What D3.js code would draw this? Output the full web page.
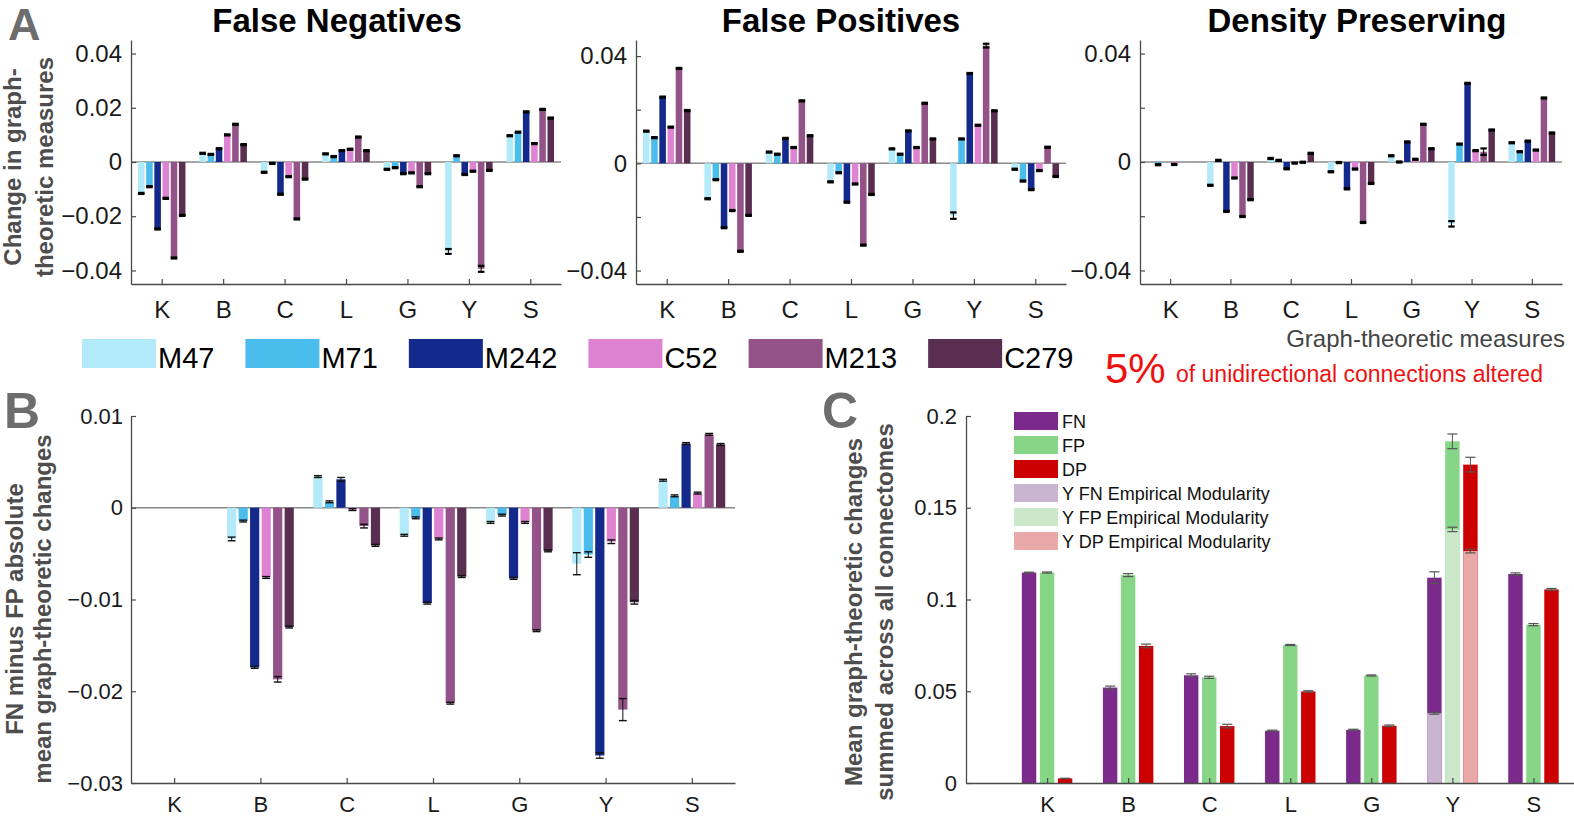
<!DOCTYPE html>
<html><head><meta charset="utf-8">
<script src="https://cdn.jsdelivr.net/npm/d3@7"></script>
<style>
body{margin:0;background:#fff}
svg{display:block;font-family:"Liberation Sans",Arial,Helvetica,sans-serif}
</style>
</head><body>
<svg id="chart" width="1574" height="818"></svg>
<script>
// ---------------- DATA ----------------
const categories = ["K","B","C","L","G","Y","S"];
const strains = ["M47","M71","M242","C52","M213","C279"];
const strainColors = ["#b3eaf9","#4abdec","#13298b","#dd83d1","#935388","#5a2e51"];

// Panel A: rows = strains, columns = categories
const fnValues = [
  [-0.0116, 0.0032, -0.0038, 0.0030, -0.0027, -0.0330, 0.0097],
  [-0.0091, 0.0028, -0.0005, 0.0020, -0.0021,  0.0023, 0.0110],
  [-0.0247, 0.0049, -0.0119, 0.0042, -0.0043, -0.0046, 0.0185],
  [-0.0134, 0.0100, -0.0054, 0.0047, -0.0040, -0.0034, 0.0068],
  [-0.0354, 0.0139, -0.0210, 0.0092, -0.0091, -0.0394, 0.0194],
  [-0.0197, 0.0064, -0.0063, 0.0042, -0.0043, -0.0031, 0.0162]
];
const fnErrors = [
  [0.0002, 0.0002, 0.0002, 0.0002, 0.0002, 0.0009, 0.0002],
  [0.0002, 0.0002, 0.0002, 0.0002, 0.0002, 0.0002, 0.0002],
  [0.0002, 0.0002, 0.0002, 0.0002, 0.0002, 0.0002, 0.0002],
  [0.0002, 0.0002, 0.0002, 0.0002, 0.0002, 0.0002, 0.0002],
  [0.0002, 0.0002, 0.0002, 0.0002, 0.0002, 0.0011, 0.0002],
  [0.0002, 0.0002, 0.0002, 0.0002, 0.0002, 0.0002, 0.0002]
];
const fpValues = [
  [0.0120, -0.0132, 0.0042, -0.0069, 0.0054, -0.0195, -0.0022],
  [0.0096, -0.0061, 0.0034, -0.0035, 0.0034,  0.0091, -0.0066],
  [0.0247, -0.0240, 0.0093, -0.0145, 0.0121,  0.0335, -0.0098],
  [0.0135, -0.0176, 0.0059, -0.0077, 0.0059,  0.0142, -0.0027],
  [0.0354, -0.0328, 0.0233, -0.0305, 0.0224,  0.0439,  0.0060],
  [0.0197, -0.0194, 0.0103, -0.0116, 0.0091,  0.0196, -0.0049]
];
const fpErrors = [
  [0.0002, 0.0002, 0.0002, 0.0002, 0.0002, 0.0012, 0.0002],
  [0.0002, 0.0002, 0.0002, 0.0002, 0.0002, 0.0002, 0.0002],
  [0.0002, 0.0002, 0.0002, 0.0002, 0.0002, 0.0002, 0.0002],
  [0.0002, 0.0002, 0.0002, 0.0002, 0.0002, 0.0002, 0.0002],
  [0.0002, 0.0002, 0.0002, 0.0002, 0.0002, 0.0007, 0.0002],
  [0.0002, 0.0002, 0.0002, 0.0002, 0.0002, 0.0002, 0.0002]
];
const dpValues = [
  [ 0.0000, -0.0086,  0.0013, -0.0036, 0.0023, -0.0228, 0.0071],
  [-0.0010,  0.0006,  0.0006, -0.0002, 0.0000,  0.0066, 0.0038],
  [ 0.0000, -0.0182, -0.0025, -0.0099, 0.0074,  0.0290, 0.0077],
  [-0.0009, -0.0059, -0.0004, -0.0026, 0.0010,  0.0042, 0.0044],
  [ 0.0000, -0.0201, -0.0001, -0.0223, 0.0139,  0.0038, 0.0236],
  [ 0.0000, -0.0139,  0.0032, -0.0079, 0.0049,  0.0118, 0.0107]
];
const dpErrors = [
  [0.0000, 0.0002, 0.0002, 0.0002, 0.0002, 0.0010, 0.0002],
  [0.0002, 0.0002, 0.0002, 0.0002, 0.0002, 0.0002, 0.0002],
  [0.0000, 0.0002, 0.0002, 0.0002, 0.0002, 0.0002, 0.0002],
  [0.0002, 0.0002, 0.0002, 0.0002, 0.0002, 0.0002, 0.0002],
  [0.0000, 0.0002, 0.0002, 0.0002, 0.0002, 0.0012, 0.0002],
  [0.0000, 0.0002, 0.0002, 0.0002, 0.0002, 0.0002, 0.0002]
];

// Panel B
const diffValues = [
  [0, -0.0034,  0.0034, -0.0030, -0.0016, -0.0061, 0.0030],
  [0, -0.00145, 0.00065,-0.0011, -0.0008, -0.0051, 0.0013],
  [0, -0.0174,  0.0031, -0.0104, -0.0077, -0.0270, 0.0070],
  [0, -0.0076, -0.0002, -0.0034, -0.0016, -0.0037, 0.0016],
  [0, -0.0187, -0.0020, -0.0213, -0.0134, -0.0220, 0.0080],
  [0, -0.0130, -0.0041, -0.0075, -0.0047, -0.0103, 0.0069]
];
const diffErrors = [
  [0, 0.0002, 0.0001, 0.0001, 0.0001, 0.0012, 0.0001],
  [0, 0.0001, 0.0001, 0.0001, 0.0001, 0.0003, 0.0001],
  [0, 0.0001, 0.0002, 0.0001, 0.0001, 0.0003, 0.0001],
  [0, 0.0001, 0.0001, 0.0001, 0.0001, 0.0002, 0.0001],
  [0, 0.0003, 0.0002, 0.0001, 0.0001, 0.0012, 0.0001],
  [0, 0.0001, 0.0001, 0.0001, 0.0001, 0.0002, 0.0001]
];

// Panel C
const compTypes = ["FN","FP","DP"];
const compColors = ["#7b2a8b","#87d587","#cc0000"];
const compValues = [
  [0.1147, 0.0520, 0.0587, 0.0285, 0.0290, 0.1119, 0.1139],
  [0.1147, 0.1133, 0.0576, 0.0752, 0.0586, 0.1862, 0.0863],
  [0.0025, 0.0747, 0.0310, 0.0499, 0.0312, 0.1735, 0.1055]
];
const compErrors = [
  [0.0002, 0.0008, 0.0008, 0.0003, 0.0003, 0.0032, 0.0006],
  [0.0003, 0.0008, 0.0006, 0.0003, 0.0003, 0.0040, 0.0006],
  [0.0001, 0.0010, 0.0010, 0.0004, 0.0004, 0.0040, 0.0005]
];
const empiricalLabels = ["Y FN Empirical Modularity","Y FP Empirical Modularity","Y DP Empirical Modularity"];
const empiricalColors = ["#c9b5d0","#cbe8cb","#eaa9a9"];
const empiricalValues = [0.0380, 0.1382, 0.1264];
const empiricalErrors = [0.0005, 0.0012, 0.0010];

const aTicks = [-0.04, -0.02, 0, 0.02, 0.04];
const bTicks = [-0.03, -0.02, -0.01, 0, 0.01];
const cTicks = [0, 0.05, 0.1, 0.15, 0.2];

// ---------------- DRAWING ----------------
const svg = d3.select("#chart");
const fmt = d => d === 0 ? "0" : d3.format(".2~f")(d);
const catPos = categories.map((c, i) => i + 1);

function panel(o) {
  const g = svg.append("g");
  const x = d3.scaleLinear().domain(o.xDomain).range([o.x0, o.x1]);
  const y = d3.scaleLinear().domain(o.yDomain).range([o.y1, o.y0]);
  const n = o.values.length;
  const gw = Math.min(0.8, n / (n + 1.5));
  const slot = gw / n;
  const bw = slot * 0.8;
  const bwPx = x(bw) - x(0);
  const cx = (i, j) => catPos[i] - gw / 2 + slot * (j + 0.5);

  if (o.zeroLine) {
    g.append("line").attr("x1", o.x0).attr("x2", o.x1)
      .attr("y1", y(0)).attr("y2", y(0))
      .attr("stroke", "#8a8a8a").attr("stroke-width", 1.5);
  }
  o.values.forEach((row, j) => {
    g.append("g").selectAll("rect").data(row).join("rect")
      .attr("x", (v, i) => x(cx(i, j)) - bwPx / 2)
      .attr("width", bwPx)
      .attr("y", v => Math.min(y(v), y(0)))
      .attr("height", v => Math.abs(y(v) - y(0)))
      .attr("fill", o.colors[j]);
  });
  if (o.overlay) o.overlay(g, x, y, cx, bwPx);
  const capW = bwPx * o.capFrac;
  o.values.forEach((row, j) => {
    row.forEach((v, i) => {
      const e = o.errors[j][i];
      if (v === 0 && e === 0) return;
      const xc = x(cx(i, j));
      g.append("line").attr("x1", xc).attr("x2", xc)
        .attr("y1", y(v - e)).attr("y2", y(v + e))
        .attr("stroke", o.errColor).attr("stroke-width", 1);
      [v - e, v + e].forEach(t => g.append("line")
        .attr("x1", xc - capW / 2).attr("x2", xc + capW / 2)
        .attr("y1", y(t)).attr("y2", y(t))
        .attr("stroke", o.errColor).attr("stroke-width", o.capStroke));
    });
  });
  if (o.extraErrors) o.extraErrors(g, x, y, cx, capW);

  const ya = d3.axisLeft(y).tickValues(o.yTicks).tickSize(-5).tickSizeOuter(0)
    .tickPadding(o.yPad).tickFormat(d => o.yLabels.includes(d) ? fmt(d) : "");
  const yg = g.append("g").attr("transform", `translate(${o.x0},0)`).call(ya);
  const xa = d3.axisBottom(x).tickValues(catPos).tickSize(-5).tickSizeOuter(0)
    .tickPadding(o.xPad).tickFormat((d, i) => categories[i]);
  const xg = g.append("g").attr("transform", `translate(0,${o.y1})`).call(xa);
  [yg, xg].forEach(a => {
    a.attr("font-family", null).attr("font-size", null);
    a.select(".domain").attr("stroke", "#4a4a4a").attr("stroke-width", 1.3);
    a.selectAll(".tick line").attr("stroke", "#4a4a4a").attr("stroke-width", 1.2);
    a.selectAll(".tick text").attr("fill", "#1a1a1a").attr("font-size", o.tickFs);
  });
  return {x, y};
}

// Panel A
const aCommon = {xDomain:[0.5,7.5], y0:40, y1:284, yTicks:aTicks, colors:strainColors,
  tickFs:24, yPad:9, xPad:17, zeroLine:true, capFrac:1.0, capStroke:2.2, errColor:"#000"};
panel(Object.assign({}, aCommon, {x0:131, x1:561, yDomain:[-0.045,0.045],
  yLabels:aTicks, values:fnValues, errors:fnErrors}));
panel(Object.assign({}, aCommon, {x0:636, x1:1066, yDomain:[-0.045,0.046],
  yLabels:[-0.04,0,0.04], values:fpValues, errors:fpErrors}));
panel(Object.assign({}, aCommon, {x0:1140, x1:1562, yDomain:[-0.045,0.045],
  yLabels:[-0.04,0,0.04], values:dpValues, errors:dpErrors}));

// Panel B
panel({xDomain:[0.5,7.5], x0:131, x1:735, y0:416, y1:783, yDomain:[-0.03,0.01],
  yTicks:bTicks, yLabels:bTicks, values:diffValues, errors:diffErrors, colors:strainColors,
  tickFs:22, yPad:8, xPad:13, zeroLine:true, capFrac:0.85, capStroke:1.4, errColor:"#111"});

// Panel C
panel({xDomain:[0,7.5], x0:966, x1:1574, y0:416, y1:783, yDomain:[0,0.2],
  yTicks:cTicks, yLabels:cTicks, values:compValues, errors:compErrors, colors:compColors,
  tickFs:22, yPad:9, xPad:13, zeroLine:false, capFrac:0.7, capStroke:1.2, errColor:"#555",
  overlay:(g, x, y, cx, bwPx) => {
    const yi = categories.indexOf("Y");
    empiricalValues.forEach((v, j) => {
      g.append("rect").attr("x", x(cx(yi, j)) - bwPx / 2).attr("width", bwPx)
        .attr("y", y(v)).attr("height", y(0) - y(v)).attr("fill", empiricalColors[j]);
    });
  },
  extraErrors:(g, x, y, cx, capW) => {
    const yi = categories.indexOf("Y");
    empiricalValues.forEach((v, j) => {
      const e = empiricalErrors[j], xc = x(cx(yi, j));
      g.append("line").attr("x1", xc).attr("x2", xc).attr("y1", y(v - e)).attr("y2", y(v + e))
        .attr("stroke", "#555");
      [v - e, v + e].forEach(t => g.append("line").attr("x1", xc - capW / 2).attr("x2", xc + capW / 2)
        .attr("y1", y(t)).attr("y2", y(t)).attr("stroke", "#555").attr("stroke-width", 1.2));
    });
  }
});

// Titles
[["False Negatives", 337], ["False Positives", 841], ["Density Preserving", 1357]].forEach(([t, cx]) =>
  svg.append("text").attr("x", cx).attr("y", 32).attr("text-anchor", "middle")
    .attr("font-size", 33).attr("font-weight", "bold").attr("fill", "#000").text(t));

// Panel letters
[["A", 8, 40, 45], ["B", 4, 428, 50], ["C", 822, 428, 50]].forEach(([t, x, y, fs]) =>
  svg.append("text").attr("x", x).attr("y", y).attr("font-size", fs)
    .attr("font-weight", "bold").attr("fill", "#6d6d6d").text(t));

// Rotated axis labels
function vLabel(lines, baselines, cy) {
  lines.forEach((t, i) => svg.append("text")
    .attr("transform", `translate(${baselines[i]},${cy}) rotate(-90)`)
    .attr("text-anchor", "middle").attr("font-size", 24).attr("font-weight", "bold")
    .attr("fill", "#4d4d4d").text(t));
}
vLabel(["Change in graph-", "theoretic measures"], [21, 53], 167);
vLabel(["FN minus FP absolute", "mean graph-theoretic changes"], [23, 51], 609);
vLabel(["Mean graph-theoretic changes", "summed across all connectomes"], [862, 893], 612);

// Strain legend
let lx = 82;
strains.forEach((s, j) => {
  svg.append("rect").attr("x", lx).attr("y", 339).attr("width", 74).attr("height", 29)
    .attr("fill", strainColors[j]);
  const t = svg.append("text").attr("x", lx + 76).attr("y", 368).attr("font-size", 29)
    .attr("fill", "#000").text(s);
  lx += 76 + t.node().getComputedTextLength() + 31;
});

// Annotation
svg.append("text").attr("x", 1565).attr("y", 347).attr("text-anchor", "end")
  .attr("font-size", 24).attr("fill", "#444").text("Graph-theoretic measures");
svg.append("text").attr("x", 1105).attr("y", 383).attr("font-size", 42)
  .attr("fill", "#ee1111").text("5%");
svg.append("text").attr("x", 1176).attr("y", 382).attr("font-size", 23)
  .attr("fill", "#ee1111").text("of unidirectional connections altered");

// Panel C legend
const cLegendLabels = compTypes.concat(empiricalLabels);
const cLegendColors = compColors.concat(empiricalColors);
cLegendLabels.forEach((t, i) => {
  const cy = 421 + i * 24;
  svg.append("rect").attr("x", 1014).attr("y", cy - 9).attr("width", 44).attr("height", 18)
    .attr("fill", cLegendColors[i]);
  svg.append("text").attr("x", 1062).attr("y", cy + 6.5).attr("font-size", 18)
    .attr("fill", "#111").text(t);
});
</script>
</body></html>
